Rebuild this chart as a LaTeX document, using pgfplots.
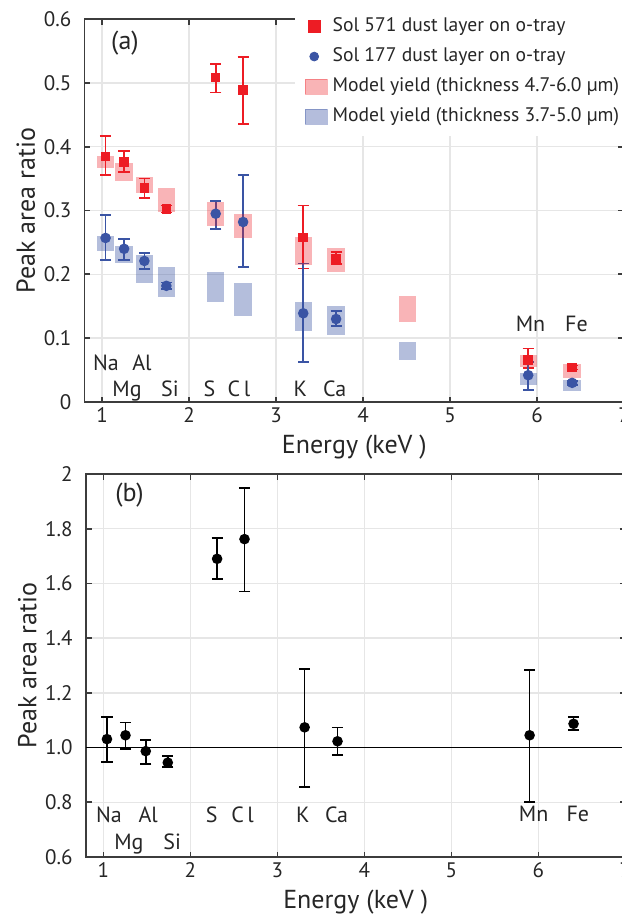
\documentclass[border=0pt]{standalone}
\usepackage{fontspec}
\setmainfont{PT Sans}
\usepackage{pgfplots}
\usepackage{pgfplotstable}
\pgfplotsset{compat=1.18}
\definecolor{myred}{HTML}{ED1C24}
\definecolor{myblue}{HTML}{3A54A4}
\definecolor{gridgray}{HTML}{E6E6E6}
\definecolor{axgray}{HTML}{3C3C3C}
\definecolor{txt}{HTML}{262626}
\tikzset{elabel/.style={font=\fontsize{11}{12}\selectfont, text=txt, anchor=base, inner sep=0pt}}

\pgfplotstableread{
x y lo hi
1.041 0.385 0.356 0.417
1.254 0.376 0.360 0.393
1.487 0.335 0.320 0.350
1.740 0.302 0.297 0.308
2.307 0.508 0.485 0.530
2.622 0.489 0.436 0.540
3.313 0.258 0.209 0.308
3.691 0.225 0.216 0.235
5.899 0.066 0.053 0.084
6.404 0.054 0.051 0.057
}\solA
\pgfplotstableread{
x y lo hi
1.041 0.257 0.223 0.293
1.254 0.240 0.222 0.255
1.487 0.221 0.208 0.233
1.740 0.182 0.177 0.187
2.307 0.295 0.271 0.315
2.622 0.282 0.212 0.356
3.313 0.139 0.063 0.217
3.691 0.130 0.119 0.143
5.899 0.042 0.019 0.063
6.404 0.030 0.027 0.033
}\solB
\pgfplotstableread{
x lo hi
1.041 0.366 0.386
1.254 0.346 0.375
1.487 0.328 0.352
1.740 0.297 0.335
2.307 0.276 0.314
2.622 0.257 0.294
3.313 0.215 0.258
3.691 0.203 0.241
4.511 0.126 0.166
5.899 0.055 0.074
6.404 0.038 0.060
}\modA
\pgfplotstableread{
x lo hi
1.041 0.236 0.260
1.254 0.218 0.245
1.487 0.187 0.230
1.740 0.165 0.212
2.307 0.157 0.203
2.622 0.135 0.186
3.313 0.111 0.157
3.691 0.105 0.150
4.511 0.066 0.094
5.899 0.027 0.045
6.404 0.018 0.035
}\modB
\pgfplotstableread{
x y lo hi
1.041 1.031 0.947 1.112
1.254 1.045 0.996 1.092
1.487 0.987 0.941 1.028
1.740 0.945 0.929 0.969
2.307 1.690 1.617 1.767
2.622 1.762 1.571 1.949
3.313 1.074 0.855 1.286
3.691 1.023 0.973 1.073
5.899 1.045 0.802 1.283
6.404 1.087 1.064 1.113
}\ratio

\pgfplotsset{
  myaxis/.style={
    scale only axis, width=269.7pt, height=191.5pt,
    xmin=0.8, xmax=7, xtick={1,2,3,4,5,6,7},
    grid=major, major grid style={gridgray, line width=0.7pt},
    axis line style={axgray, line width=0.9pt},
    tick style={axgray, line width=0.9pt},
    tick align=inside, major tick length=2.75pt,
    /pgf/number format/assume math mode=true,
    ticklabel style={font=\fontsize{10.5}{12}\selectfont, text=txt},
    xticklabel style={inner sep=0pt, yshift=-2.5pt},
    yticklabel style={inner sep=0pt, xshift=-6.5pt},
    every axis x label/.style={at={(axis description cs:0.5,-0.1175)}, anchor=center,
      font=\fontsize{13}{15}\selectfont, text=txt},
    every axis y label/.style={at={(axis description cs:-0.109,0.5)}, anchor=center, rotate=90,
      font=\fontsize{13}{15}\selectfont, text=txt},
  },
  ebar/.style={only marks, line width=0.85pt, forget plot,
    error bars/.cd, y dir=both, y explicit, error mark=-,
    error mark options={rotate=90, mark size=2.8pt, line width=0.85pt, #1},
    error bar style={line width=0.85pt, #1}},
  rect/.style={draw=none, mark=none, forget plot,
    error bars/.cd, y dir=both, y explicit, error mark=none,
    error bar style={line width=8.7pt, draw=#1}},
}

\begin{document}
\begin{tikzpicture}
\begin{axis}[myaxis, at={(42.3pt,-201pt)}, anchor=south west,
  ymin=0, ymax=0.6, ytick={0,0.1,0.2,0.3,0.4,0.5,0.6},
  yticklabels={0,0.1,0.2,0.3,0.4,0.5,0.6},
  xlabel={Energy (keV )}, ylabel={Peak area ratio},
  legend cell align=left,
  legend style={at={(rel axis cs:0.389,1.031)}, anchor=north west,
    fill=white, draw=none, inner xsep=5pt, inner ysep=5pt, row sep=6pt,
    font=\fontsize{9.8}{12}\selectfont, text=txt,
    nodes={inner sep=0pt, text height=7pt, text depth=2pt},
    /tikz/column 1/.style={column sep=2.5pt}},
]
\addlegendimage{legend image code/.code={\draw[myred, only marks, mark=square*, mark size=2.9pt] plot coordinates {(4.5pt,0pt)};}}
\addlegendentry{Sol 571 dust layer on o-tray}
\addlegendimage{legend image code/.code={\draw[myblue, only marks, mark=*, mark size=2.2pt] plot coordinates {(4.5pt,0pt)};}}
\addlegendentry{Sol 177 dust layer on o-tray}
\addlegendimage{legend image code/.code={\fill[myred, opacity=0.33] (0pt,-3.75pt) rectangle (11pt,3.75pt);}}
\addlegendentry{Model yield (thickness 4.7-6.0 µm)}
\addlegendimage{legend image code/.code={\fill[myblue, opacity=0.38] (0pt,-3.75pt) rectangle (11pt,3.75pt);}}
\addlegendentry{Model yield (thickness 3.7-5.0 µm)}

\addplot[myred, mark=square*, mark size=1.95pt, ebar=myred] table[x=x, y=y,
  y error plus expr=\thisrow{hi}-\thisrow{y}, y error minus expr=\thisrow{y}-\thisrow{lo}] {\solA};
\addplot[myblue, mark=*, mark size=2.2pt, ebar=myblue] table[x=x, y=y,
  y error plus expr=\thisrow{hi}-\thisrow{y}, y error minus expr=\thisrow{y}-\thisrow{lo}] {\solB};
\addplot[rect={myred, draw opacity=0.33}] table[x=x, y expr=(\thisrow{lo}+\thisrow{hi})/2,
  y error expr=(\thisrow{hi}-\thisrow{lo})/2] {\modA};
\addplot[rect={myblue, draw opacity=0.38}] table[x=x, y expr=(\thisrow{lo}+\thisrow{hi})/2,
  y error expr=(\thisrow{hi}-\thisrow{lo})/2] {\modB};

\node[font=\fontsize{13}{15}\selectfont, text=txt] at (axis cs:1.264,0.5624) {(a)};
\node[elabel] at (axis cs:1.046,0.049) {Na};
\node[elabel] at (axis cs:1.46,0.049) {Al};
\node[elabel] at (axis cs:1.287,0.0094) {Mg};
\node[elabel] at (axis cs:1.78,0.0094) {Si};
\node[elabel] at (axis cs:2.235,0.0094) {S};
\node[elabel] at (axis cs:2.575,0.0094) {C\,l};
\node[elabel] at (axis cs:3.28,0.0094) {K};
\node[elabel] at (axis cs:3.675,0.0094) {Ca};
\node[elabel] at (axis cs:5.925,0.110) {Mn};
\node[elabel] at (axis cs:6.454,0.110) {Fe};
\end{axis}

\begin{axis}[myaxis, at={(43pt,-428.5pt)}, anchor=south west,
  ymin=0.6, ymax=2, ytick={0.6,0.8,1.0,1.2,1.4,1.6,1.8,2},
  yticklabels={0.6,0.8,1.0,1.2,1.4,1.6,1.8,2},
  xlabel={Energy (keV )}, ylabel={Peak area ratio},
]
\addplot[black, line width=0.85pt, forget plot] coordinates {(0.8,1) (7,1)};
\addplot[black, mark=*, mark size=2.2pt, ebar=black] table[x=x, y=y,
  y error plus expr=\thisrow{hi}-\thisrow{y}, y error minus expr=\thisrow{y}-\thisrow{lo}] {\ratio};
\node[font=\fontsize{13}{15}\selectfont, text=txt] at (axis cs:1.30,1.923) {(b)};
\node[elabel] at (axis cs:1.063,0.727) {Na};
\node[elabel] at (axis cs:1.515,0.727) {Al};
\node[elabel] at (axis cs:1.293,0.628) {Mg};
\node[elabel] at (axis cs:1.79,0.628) {Si};
\node[elabel] at (axis cs:2.245,0.727) {S};
\node[elabel] at (axis cs:2.60,0.727) {C\,l};
\node[elabel] at (axis cs:3.293,0.727) {K};
\node[elabel] at (axis cs:3.68,0.727) {Ca};
\node[elabel] at (axis cs:5.946,0.729) {Mn};
\node[elabel] at (axis cs:6.454,0.729) {Fe};
\end{axis}
\pgfresetboundingbox
\path[use as bounding box] (0,0) rectangle (311pt,-458.5pt);
\end{tikzpicture}
\end{document}
